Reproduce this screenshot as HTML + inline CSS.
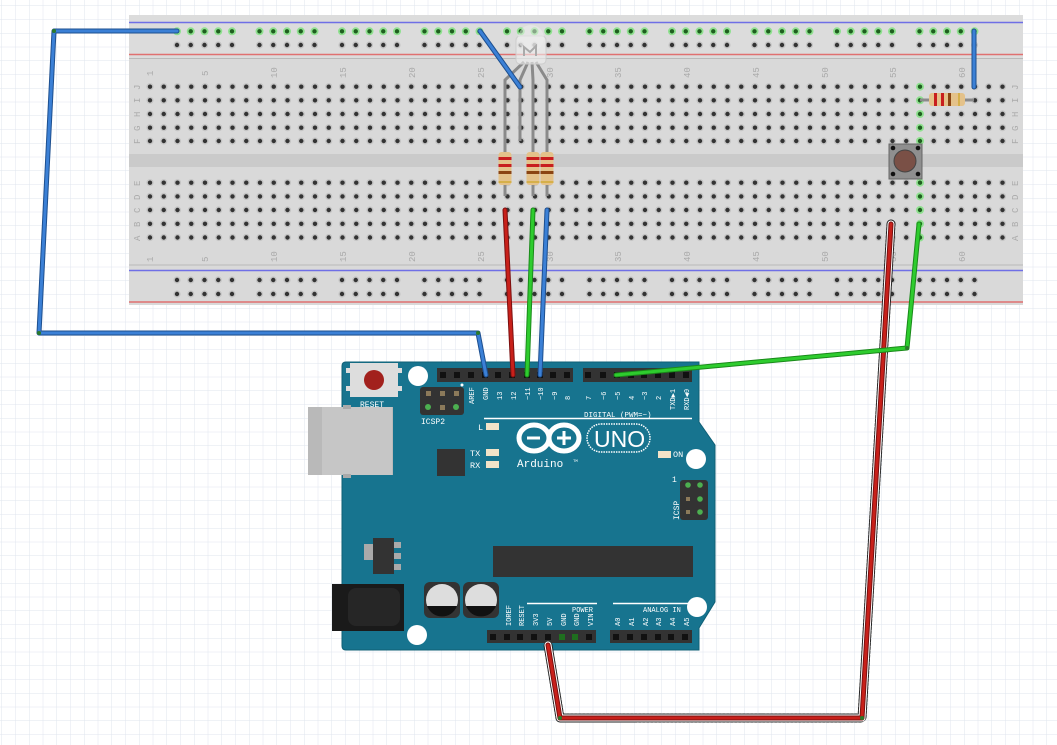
<!DOCTYPE html>
<html><head><meta charset="utf-8"><style>
html,body{margin:0;padding:0;background:#fff;}
svg{display:block;font-family:"Liberation Mono","DejaVu Sans Mono",monospace;}
</style></head><body>
<svg id="s" width="1057" height="745" viewBox="0 0 1057 745" xmlns="http://www.w3.org/2000/svg">
<defs>
<pattern id="grid" width="13.75" height="13.75" patternUnits="userSpaceOnUse" x="2" y="6">
<path d="M13.75 0V13.75H0" fill="none" stroke="#dfe5ee" stroke-width="1"/>
</pattern>
</defs>
<rect width="1057" height="745" fill="url(#grid)"/>
<!-- breadboard -->
<rect x="129" y="15" width="894" height="290" fill="#d9d9d9"/>
<rect x="129" y="15" width="894" height="44" fill="#dcdcdc"/>
<line x1="129" y1="22.5" x2="1023" y2="22.5" stroke="#6f6fe6" stroke-width="1.5"/>
<line x1="129" y1="54.5" x2="1023" y2="54.5" stroke="#e07070" stroke-width="1.5"/>
<line x1="129" y1="58.5" x2="1023" y2="58.5" stroke="#b9b9b9" stroke-width="1"/>
<rect x="129" y="154" width="894" height="13" fill="#cacaca"/>
<line x1="129" y1="265" x2="1023" y2="265" stroke="#b9b9b9" stroke-width="1"/>
<line x1="129" y1="270.5" x2="1023" y2="270.5" stroke="#6f6fe6" stroke-width="1.5"/>
<line x1="129" y1="302" x2="1023" y2="302" stroke="#e07070" stroke-width="1.5"/>
<g id="holes"></g>
<g font-size="9" fill="#aaa" id="labels">
<text transform="translate(153,76) rotate(-90)">1</text>
<text transform="translate(208,76) rotate(-90)">5</text>
<text transform="translate(277,78) rotate(-90)">10</text>
<text transform="translate(346,78) rotate(-90)">15</text>
<text transform="translate(415,78) rotate(-90)">20</text>
<text transform="translate(484,78) rotate(-90)">25</text>
<text transform="translate(553,78) rotate(-90)">30</text>
<text transform="translate(621,78) rotate(-90)">35</text>
<text transform="translate(690,78) rotate(-90)">40</text>
<text transform="translate(759,78) rotate(-90)">45</text>
<text transform="translate(828,78) rotate(-90)">50</text>
<text transform="translate(896,78) rotate(-90)">55</text>
<text transform="translate(965,78) rotate(-90)">60</text>
<text transform="translate(153,262) rotate(-90)">1</text>
<text transform="translate(208,262) rotate(-90)">5</text>
<text transform="translate(277,262) rotate(-90)">10</text>
<text transform="translate(346,262) rotate(-90)">15</text>
<text transform="translate(415,262) rotate(-90)">20</text>
<text transform="translate(484,262) rotate(-90)">25</text>
<text transform="translate(553,262) rotate(-90)">30</text>
<text transform="translate(621,262) rotate(-90)">35</text>
<text transform="translate(690,262) rotate(-90)">40</text>
<text transform="translate(759,262) rotate(-90)">45</text>
<text transform="translate(828,262) rotate(-90)">50</text>
<text transform="translate(896,262) rotate(-90)">55</text>
<text transform="translate(965,262) rotate(-90)">60</text>
<text transform="translate(140,90) rotate(-90)">J</text><text transform="translate(140,103) rotate(-90)">I</text><text transform="translate(140,117) rotate(-90)">H</text><text transform="translate(140,131) rotate(-90)">G</text><text transform="translate(140,144) rotate(-90)">F</text>
<text transform="translate(140,186) rotate(-90)">E</text><text transform="translate(140,200) rotate(-90)">D</text><text transform="translate(140,213) rotate(-90)">C</text><text transform="translate(140,227) rotate(-90)">B</text><text transform="translate(140,241) rotate(-90)">A</text>
<text transform="translate(1018,90) rotate(-90)">J</text><text transform="translate(1018,103) rotate(-90)">I</text><text transform="translate(1018,117) rotate(-90)">H</text><text transform="translate(1018,131) rotate(-90)">G</text><text transform="translate(1018,144) rotate(-90)">F</text>
<text transform="translate(1018,186) rotate(-90)">E</text><text transform="translate(1018,200) rotate(-90)">D</text><text transform="translate(1018,213) rotate(-90)">C</text><text transform="translate(1018,227) rotate(-90)">B</text><text transform="translate(1018,241) rotate(-90)">A</text>
</g>
<!-- LED -->
<g stroke="#8a8a8a" stroke-width="3" fill="none">
<path d="M524 62 L505 80 L505 141"/><path d="M528 62 L520 80 L520 141"/><path d="M532 62 L533 80 L533 141"/><path d="M536 62 L547 80 L547 141"/>
</g>
<rect x="516" y="36" width="30" height="28" rx="4" fill="#eeeeee" fill-opacity="0.6" stroke="#ccc"/>
<circle cx="531" cy="38" r="13" fill="#eeeeee" fill-opacity="0.5"/>
<path d="M524 56 L524 47 L530 52 L536 46 L536 56" stroke="#aaa" stroke-width="2" fill="none"/>
<!-- resistors vertical -->
<g id="res"></g>
<!-- horizontal resistor -->
<line x1="920" y1="100" x2="974" y2="100" stroke="#8a8a8a" stroke-width="3"/>
<rect x="929" y="93" width="36" height="13" rx="3" fill="#e4c28a"/>
<rect x="934" y="93" width="3" height="13" fill="#c81e1e"/><rect x="941" y="93" width="3" height="13" fill="#c81e1e"/><rect x="948" y="93" width="3" height="13" fill="#8b4513"/><rect x="958" y="93" width="2" height="13" fill="#d6b04a"/>
<!-- pushbutton -->
<rect x="889" y="144" width="33" height="35" fill="#8f8f8f" stroke="#666"/>
<circle cx="905" cy="161" r="11" fill="#7a5046" stroke="#444"/>
<circle cx="893" cy="148" r="2.3" fill="#111"/><circle cx="918" cy="148" r="2.3" fill="#111"/><circle cx="893" cy="174" r="2.3" fill="#111"/><circle cx="918" cy="174" r="2.3" fill="#111"/>

<!-- ARDUINO -->
<path d="M346 362 H699 V422 L715 445 V602 L699 628 V650 H346 Q342 650 342 646 V366 Q342 362 346 362Z" fill="#17748f" stroke="#0f5f76" stroke-width="1"/>
<circle cx="418" cy="376" r="10" fill="#fff"/><circle cx="696" cy="459" r="10" fill="#fff"/><circle cx="697" cy="607" r="10" fill="#fff"/><circle cx="417" cy="635" r="10" fill="#fff"/>
<!-- reset -->
<rect x="350" y="363" width="48" height="34" fill="#ddd"/>
<rect x="346" y="368" width="4" height="5" fill="#ddd"/><rect x="346" y="386" width="4" height="5" fill="#ddd"/><rect x="398" y="368" width="4" height="5" fill="#ddd"/><rect x="398" y="386" width="4" height="5" fill="#ddd"/>
<circle cx="374" cy="380" r="10" fill="#a2211d"/>
<text x="360" y="407" font-size="8" fill="#fff">RESET</text>
<!-- ICSP2 -->
<rect x="420" y="387" width="44" height="28" rx="3" fill="#333"/>
<g fill="#8c7a5a"><rect x="426" y="391" width="5" height="5"/><rect x="440" y="391" width="5" height="5"/><rect x="454" y="391" width="5" height="5"/><rect x="440" y="405" width="5" height="5"/></g>
<g fill="#4caf50"><circle cx="428" cy="407" r="3"/><circle cx="456" cy="407" r="3"/></g>
<text x="421" y="424" font-size="8" fill="#fff">ICSP2</text>
<circle cx="462" cy="385" r="1.5" fill="#fff"/>
<!-- USB -->
<rect x="308" y="407" width="85" height="68" fill="#b9b9b9"/>
<rect x="322" y="407" width="70" height="68" fill="#c6c6c6"/>
<rect x="343" y="405" width="8" height="4" fill="#aaa"/><rect x="343" y="474" width="8" height="4" fill="#aaa"/>
<rect x="437" y="449" width="28" height="27" fill="#333"/>
<!-- headers -->
<rect x="437" y="368" width="136" height="14" fill="#333"/>
<rect x="583" y="368" width="109" height="14" fill="#333"/>
<rect x="487" y="630" width="109" height="13" fill="#333"/>
<rect x="610" y="630" width="82" height="13" fill="#333"/>
<g id="pins"></g>
<text x="584" y="417" font-size="7.5" fill="#fff">DIGITAL (PWM=~)</text>
<line x1="484" y1="418.5" x2="692" y2="418.5" stroke="#fff" stroke-width="1.5"/>
<!-- LEDs -->
<text x="478" y="430" font-size="8.5" fill="#fff">L</text><rect x="486" y="423" width="13" height="7" fill="#f2e3c8"/>
<text x="470" y="456" font-size="8.5" fill="#fff">TX</text><rect x="486" y="449" width="13" height="7" fill="#f2e3c8"/>
<text x="470" y="468" font-size="8.5" fill="#fff">RX</text><rect x="486" y="461" width="13" height="7" fill="#f2e3c8"/>
<rect x="658" y="451" width="13" height="7" fill="#f2e3c8"/><text x="673" y="457" font-size="8.5" fill="#fff">ON</text>
<!-- logo -->
<g stroke="#fff" stroke-width="5" fill="none">
<ellipse cx="534" cy="438" rx="15" ry="13"/><ellipse cx="564" cy="438" rx="15" ry="13"/>
</g>
<line x1="527" y1="438" x2="540" y2="438" stroke="#fff" stroke-width="3"/>
<line x1="557" y1="438" x2="571" y2="438" stroke="#fff" stroke-width="3"/><line x1="564" y1="431" x2="564" y2="445" stroke="#fff" stroke-width="3"/>
<rect x="587" y="424" width="63" height="28" rx="14" fill="none" stroke="#fff" stroke-width="1.5" stroke-dasharray="1.5 1"/>
<text x="594" y="447" font-size="23" fill="#fff" font-family="Liberation Sans, sans-serif">UNO</text>
<text x="517" y="467" font-size="11" fill="#fff">Arduino</text>
<text x="573" y="462" font-size="4" fill="#fff">TM</text>
<!-- ICSP -->
<rect x="680" y="480" width="28" height="40" rx="3" fill="#333"/>
<g fill="#4caf50"><circle cx="688" cy="485" r="2.8"/><circle cx="700" cy="485" r="2.8"/><circle cx="700" cy="499" r="2.8"/><circle cx="700" cy="512" r="2.8"/></g>
<g fill="#8c7a5a"><rect x="686" y="497" width="4" height="4"/><rect x="686" y="510" width="4" height="4"/></g>
<text x="672" y="482" font-size="8" fill="#fff">1</text>
<text transform="translate(679,520) rotate(-90)" font-size="8" fill="#fff">ICSP</text>
<!-- chip -->
<rect x="493" y="546" width="200" height="31" fill="#333"/>
<!-- regulator -->
<rect x="364" y="544" width="12" height="16" fill="#aaa"/>
<rect x="393" y="542" width="8" height="6" fill="#aaa"/><rect x="393" y="553" width="8" height="6" fill="#aaa"/><rect x="393" y="564" width="8" height="6" fill="#aaa"/>
<rect x="373" y="538" width="21" height="36" fill="#333"/>
<!-- power jack -->
<rect x="332" y="584" width="72" height="47" fill="#1a1a1a"/>
<rect x="348" y="588" width="52" height="38" rx="8" fill="#262626"/>
<!-- capacitors -->
<rect x="424" y="582" width="36" height="36" rx="6" fill="#333"/>
<rect x="463" y="582" width="36" height="36" rx="6" fill="#333"/>
<circle cx="442" cy="600" r="16" fill="#ddd"/><path d="M427 606 A16 16 0 0 0 457 606Z" fill="#111"/>
<circle cx="481" cy="600" r="16" fill="#ddd"/><path d="M466 606 A16 16 0 0 0 496 606Z" fill="#111"/>
<line x1="527" y1="603.5" x2="597" y2="603.5" stroke="#fff" stroke-width="1.5"/>
<line x1="613" y1="603.5" x2="692" y2="603.5" stroke="#fff" stroke-width="1.5"/>
<text x="572" y="612" font-size="7" fill="#fff">POWER</text>
<text x="643" y="612" font-size="7" fill="#fff">ANALOG IN</text>
<g font-size="7" fill="#fff">
<text transform="translate(511,626) rotate(-90)">IOREF</text>
<text transform="translate(524,626) rotate(-90)">RESET</text>
<text transform="translate(538,626) rotate(-90)">3V3</text>
<text transform="translate(552,626) rotate(-90)">5V</text>
<text transform="translate(566,626) rotate(-90)">GND</text>
<text transform="translate(579,626) rotate(-90)">GND</text>
<text transform="translate(593,626) rotate(-90)">VIN</text>
<text transform="translate(620,626) rotate(-90)">A0</text>
<text transform="translate(634,626) rotate(-90)">A1</text>
<text transform="translate(648,626) rotate(-90)">A2</text>
<text transform="translate(661,626) rotate(-90)">A3</text>
<text transform="translate(675,626) rotate(-90)">A4</text>
<text transform="translate(689,626) rotate(-90)">A5</text>
<text transform="translate(474,404) rotate(-90)">AREF</text>
<text transform="translate(488,400) rotate(-90)">GND</text>
<text transform="translate(502,400) rotate(-90)">13</text>
<text transform="translate(516,400) rotate(-90)">12</text>
<text transform="translate(530,400) rotate(-90)">~11</text>
<text transform="translate(543,400) rotate(-90)">~10</text>
<text transform="translate(557,400) rotate(-90)">~9</text>
<text transform="translate(570,400) rotate(-90)">8</text>
<text transform="translate(591,400) rotate(-90)">7</text>
<text transform="translate(606,400) rotate(-90)">~6</text>
<text transform="translate(620,400) rotate(-90)">~5</text>
<text transform="translate(634,400) rotate(-90)">4</text>
<text transform="translate(647,400) rotate(-90)">~3</text>
<text transform="translate(661,400) rotate(-90)">2</text>
<text transform="translate(675,410) rotate(-90)">TXD▶1</text>
<text transform="translate(689,410) rotate(-90)">RXD◀0</text>
</g>

<!-- WIRES -->
<g fill="none" stroke-linecap="round" stroke-linejoin="round">
<path d="M891 224 L862 718 L560 718 L548 645" stroke="#222" stroke-width="9" stroke-dasharray="2 2"/>
<path d="M891 224 L862 718 L560 718 L548 645" stroke="#fff" stroke-width="7"/>
<path d="M891 224 L862 718 L560 718 L548 645" stroke="#7a0f0f" stroke-width="5"/>
<path d="M891 224 L862 718 L560 718 L548 645" stroke="#c8201a" stroke-width="3"/>
<path d="M177 31 L54 31 L39 333 L478 333 L486 375" stroke="#1d4f8f" stroke-width="5"/>
<path d="M177 31 L54 31 L39 333 L478 333 L486 375" stroke="#3b80d6" stroke-width="3"/>
<path d="M480 31 L520 87" stroke="#1d4f8f" stroke-width="5"/><path d="M480 31 L520 87" stroke="#3b80d6" stroke-width="3"/>
<path d="M974 31 L974 87" stroke="#1d4f8f" stroke-width="5"/><path d="M974 31 L974 87" stroke="#3b80d6" stroke-width="3"/>
<path d="M547 210 L540 375" stroke="#1d4f8f" stroke-width="5"/><path d="M547 210 L540 375" stroke="#3b80d6" stroke-width="3"/>
<path d="M505 210 L513 375" stroke="#7a0f0f" stroke-width="5"/><path d="M505 210 L513 375" stroke="#c8201a" stroke-width="3"/>
<path d="M533 210 L527 375" stroke="#1a8a1a" stroke-width="5"/><path d="M533 210 L527 375" stroke="#2ecc2e" stroke-width="3"/>
<path d="M919 224 L907 348 L616 375" stroke="#1a8a1a" stroke-width="5"/><path d="M919 224 L907 348 L616 375" stroke="#2ecc2e" stroke-width="3"/>
</g>
<g fill="#2a7a2a"><circle cx="54" cy="31" r="2"/><circle cx="39" cy="333" r="2"/><circle cx="478" cy="333" r="2"/><circle cx="907" cy="348" r="2"/><circle cx="862" cy="718" r="2"/><circle cx="560" cy="718" r="2"/></g>
</svg>
<script>
(function(){
var NS="http://www.w3.org/2000/svg";
function el(p,t,a){var e=document.createElementNS(NS,t);for(var k in a)e.setAttribute(k,a[k]);p.appendChild(e);return e;}
var H=document.getElementById("holes");
var green={};
function G(x,y){green[Math.round(x)+","+Math.round(y)]=1;}
var rowsT=[86.7,100.3,114,127.7,141],rowsB=[182.7,196.4,210,223.8,237.5];
function cx(c){return 150+(c-1)*13.75;}
[505,520,533,547].forEach(function(x){rowsT.forEach(function(y){G(x,y);});});
[505,533,547].forEach(function(x){G(x,196.4);G(x,210);});
[892,920].forEach(function(x){rowsT.concat(rowsB).forEach(function(y){G(x,y);});});
rowsT.forEach(function(y){G(974,y);});
G(920,100.3);
function hole(x,y,g){
 if(g){el(H,"circle",{cx:x,cy:y,r:4,fill:"#8fe08f"});el(H,"circle",{cx:x,cy:y,r:2.2,fill:"#1f5f1f"});}
 else{el(H,"circle",{cx:x,cy:y,r:3.6,fill:"#c4c4c4"});el(H,"circle",{cx:x,cy:y,r:2.2,fill:"#333"});}
}
for(var c=1;c<=63;c++){var x=cx(c);
 rowsT.forEach(function(y){hole(x,y,green[Math.round(x)+","+Math.round(y)]);});
 rowsB.forEach(function(y){hole(x,y,green[Math.round(x)+","+Math.round(y)]);});
}
for(var g=0;g<10;g++){for(var i=0;i<5;i++){var x=177+g*82.5+i*13.75;
 hole(x,31.3,true);hole(x,45,false);hole(x,280,false);hole(x,294,false);}}
var R=document.getElementById("res");
[505,533,547].forEach(function(x){
 el(R,"line",{x1:x,y1:141,x2:x,y2:196,stroke:"#8a8a8a","stroke-width":3});
 el(R,"rect",{x:x-6.5,y:152,width:13,height:33,rx:3,fill:"#e4c28a"});
 el(R,"rect",{x:x-6.5,y:157,width:13,height:3,fill:"#c81e1e"});
 el(R,"rect",{x:x-6.5,y:164,width:13,height:3,fill:"#c81e1e"});
 el(R,"rect",{x:x-6.5,y:171,width:13,height:3,fill:"#8b4513"});
 el(R,"rect",{x:x-6.5,y:181,width:13,height:2,fill:"#d6b04a"});
});
var P=document.getElementById("pins");
[443,457,471,485,498,512,527,540,553,567,588,603,617,631,644,658,672,686].forEach(function(x){el(P,"rect",{x:x-3,y:372,width:6,height:6,fill:"#111"});});
[493,507,520,534,548,562,575,589,616,630,644,658,671,685].forEach(function(x){
 var gg=(x==562||x==575);el(P,"rect",{x:x-3,y:634,width:6,height:6,fill:gg?"#1f6f1f":"#111"});});
})();
</script>
</body></html>
